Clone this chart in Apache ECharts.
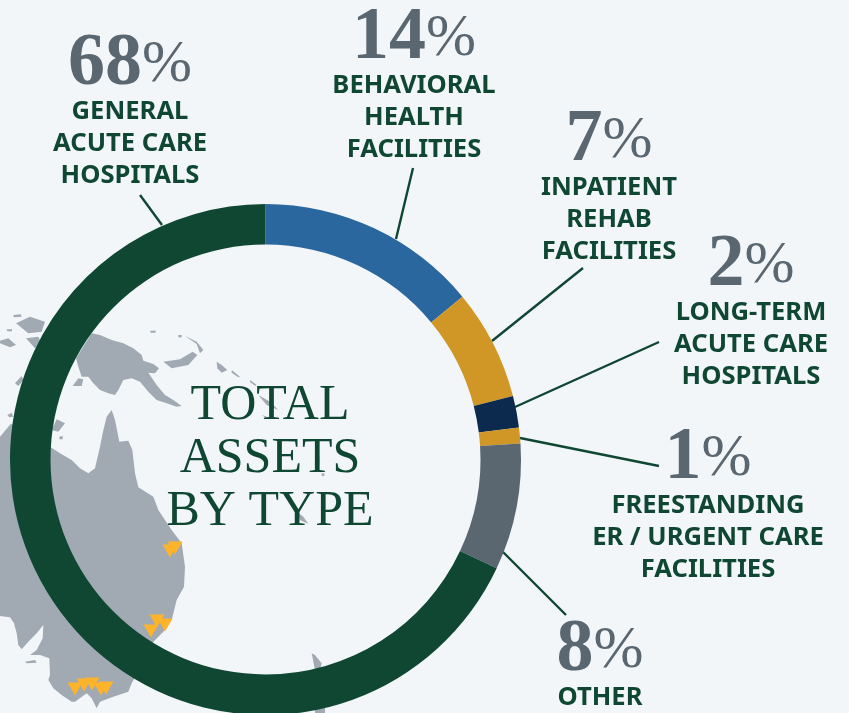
<!DOCTYPE html>
<html>
<head>
<meta charset="utf-8">
<title>Total assets by type</title>
<script src="https://cdn.jsdelivr.net/npm/echarts@6/dist/echarts.min.js"></script>
<style>
  html, body { margin: 0; padding: 0; background: #f2f6f9; }
  #chart { width: 849px; height: 713px; }
</style>
</head>
<body>
<div id="chart"></div>
<script>
// data
const percents = [14, 7, 2, 1, 8, 68]
const categories = [
  ['BEHAVIORAL', 'HEALTH', 'FACILITIES'],
  ['INPATIENT', 'REHAB', 'FACILITIES'],
  ['LONG-TERM', 'ACUTE CARE', 'HOSPITALS'],
  ['FREESTANDING', 'ER / URGENT CARE', 'FACILITIES'],
  ['OTHER'],
  ['GENERAL', 'ACUTE CARE', 'HOSPITALS']
]
const sliceColors = ['#2a679f', '#d19726', '#0b2a4d', '#d19726', '#5a6670', '#0f4733']

// label anchor (center x, top y) per slice
const labelAnchors = [[414, 8], [609, 110], [751, 235], [708, 428], [600, 620], [130, 34]]

// leader lines, page pixels
const leaders = [
  [[396, 239], [413, 168]],
  [[492, 341], [583, 268]],
  [[515, 407], [659, 342]],
  [[520, 438], [659, 466]],
  [[503, 552], [566, 615]],
  [[162, 225], [140, 195]]
]

// facility markers, page pixels
const sites = [
  [170, 551], [175, 548],
  [157, 621], [165, 625], [151, 631],
  [75, 689], [84, 685], [92, 684], [101, 689], [106, 688]
]

// background map outlines, read at 3x from page origin (0, 300)
const mapShapes = [
  // Australia
  [[0, 410], [32, 372], [150, 400], [150, 440], [180, 460], [215, 480], [240, 505], [265, 520], [285, 505], [300, 440], [308, 400], [320, 350], [335, 330], [345, 360], [358, 425], [385, 422], [397, 450], [405, 520], [415, 562], [460, 590], [475, 630], [495, 660], [515, 690], [545, 730], [555, 800], [552, 860], [530, 900], [515, 960], [490, 995], [460, 1025], [440, 1060], [402, 1138], [395, 1150], [385, 1175], [340, 1190], [300, 1205], [290, 1225], [275, 1195], [260, 1180], [225, 1205], [215, 1205], [185, 1185], [160, 1165], [145, 1140], [150, 1125], [148, 1075], [120, 1065], [90, 1065], [110, 1050], [128, 1015], [130, 975], [110, 1000], [85, 1025], [65, 1048], [55, 1035], [50, 1000], [42, 970], [30, 952], [0, 948]],
  [[75, 1085], [105, 1080], [110, 1088], [80, 1090]],
  // New Guinea
  [[228, 175], [275, 100], [300, 105], [335, 120], [370, 130], [400, 145], [425, 165], [430, 182], [460, 192], [477, 205], [465, 220], [445, 218], [470, 255], [495, 285], [520, 300], [545, 318], [530, 320], [500, 310], [470, 300], [445, 275], [420, 245], [395, 235], [370, 240], [355, 270], [345, 285], [325, 280], [300, 270], [280, 250], [265, 230], [245, 230], [235, 200]],
  [[218, 258], [235, 235], [250, 238], [245, 258]],
  // islands west of the ring
  [[48, 70], [90, 50], [135, 65], [125, 95], [85, 100]],
  [[0, 122], [25, 115], [48, 135], [30, 142], [0, 130]],
  [[78, 115], [115, 110], [125, 130], [105, 145]],
  [[45, 250], [65, 228], [70, 240], [55, 258]],
  [[155, 390], [170, 358], [195, 370], [175, 395]],
  [[22, 345], [35, 338], [40, 350], [28, 352]],
  [[178, 410], [188, 408], [188, 418], [178, 418]],
  [[40, 45], [62, 43], [65, 50], [42, 52]],
  [[20, 88], [36, 88], [36, 94], [22, 94]],
  // Solomon chain and Bismarck
  [[490, 185], [540, 178], [578, 155], [592, 165], [565, 195], [515, 205]],
  [[555, 108], [590, 125], [610, 150], [600, 160], [590, 132]],
  [[650, 185], [665, 195], [682, 210], [665, 218], [652, 205]],
  [[695, 210], [720, 230], [715, 232], [695, 218]],
  [[750, 240], [770, 255], [765, 257], [750, 246]],
  [[775, 285], [810, 305], [835, 330], [800, 315]],
  [[450, 92], [468, 92], [466, 98], [452, 98]],
  [[535, 105], [545, 105], [545, 112], [535, 112]],
  [[785, 345], [805, 352], [800, 356]],
  // Vanuatu and New Caledonia
  [[950, 470], [958, 470], [958, 490], [950, 490]],
  [[965, 520], [973, 520], [973, 528], [965, 528]],
  [[885, 630], [910, 650], [925, 672], [900, 660]],
  // New Zealand
  [[935, 1060], [945, 1065], [965, 1090], [960, 1110], [945, 1110]],
  [[945, 1230], [975, 1215], [975, 1239], [945, 1239]]
]

const mapPolygons = mapShapes.map(points => ({
  type: 'polygon',
  z: -10,
  silent: true,
  shape: { points: points.map(p => [p[0] / 3, 300 + p[1] / 3]) },
  style: { fill: '#a1a9b3' }
}))

const chart = echarts.init(document.getElementById('chart'))

const option = {
  animation: false,
  backgroundColor: '#f2f6f9',
  title: {
    text: 'TOTAL\nASSETS\nBY TYPE',
    left: 265,
    top: 374,
    textAlign: 'center',
    textStyle: {
      fontFamily: 'Liberation Serif',
      fontWeight: 'normal',
      fontSize: 50,
      lineHeight: 53,
      color: '#0f4733'
    }
  },
  graphic: { elements: mapPolygons },
  grid: { left: 0, top: 0, width: 849, height: 713 },
  xAxis: { type: 'value', min: 0, max: 849, show: false },
  yAxis: { type: 'value', min: 0, max: 713, inverse: true, show: false },
  series: [
    {
      type: 'line',
      z: 1,
      silent: true,
      showSymbol: false,
      symbol: 'none',
      connectNulls: false,
      lineStyle: { color: '#0f4733', width: 2.4 },
      data: leaders.flatMap(l => [l[0], l[1], null])
    },
    {
      type: 'scatter',
      z: 3,
      silent: true,
      symbol: 'triangle',
      symbolRotate: 180,
      symbolSize: [15, 13],
      itemStyle: { color: '#fdb32a', opacity: 1 },
      data: sites
    },
    {
      type: 'pie',
      z: 2,
      center: [265.5, 459.5],
      radius: [215, 255.5],
      startAngle: 90,
      avoidLabelOverlap: false,
      silent: true,
      label: {
        show: true,
        position: 'outside',
        align: 'center',
        formatter: params => {
          const lines = categories[params.dataIndex].map(t => `{name|${t}}`)
          return [`{digit|${params.value}}{sign|%}`, ...lines].join('\n')
        },
        rich: {
          digit: {
            fontFamily: 'Liberation Serif',
            fontWeight: 'bold',
            fontSize: 74,
            lineHeight: 62,
            color: '#5a6670',
            align: 'center'
          },
          sign: {
            fontFamily: 'Liberation Serif',
            fontSize: 60,
            lineHeight: 62,
            color: '#5a6670',
            align: 'center'
          },
          name: {
            fontFamily: 'Noto Sans',
            fontWeight: 700,
            fontSize: 25.6,
            lineHeight: 31.7,
            color: '#0f4733',
            align: 'center'
          }
        }
      },
      labelLine: { show: false },
      labelLayout: params => ({
        x: labelAnchors[params.dataIndex][0],
        y: labelAnchors[params.dataIndex][1],
        align: 'center',
        verticalAlign: 'top'
      }),
      data: percents.map((value, i) => ({
        value,
        name: categories[i].join(' '),
        itemStyle: { color: sliceColors[i] }
      }))
    }
  ]
}

chart.setOption(option)
</script>
</body>
</html>
